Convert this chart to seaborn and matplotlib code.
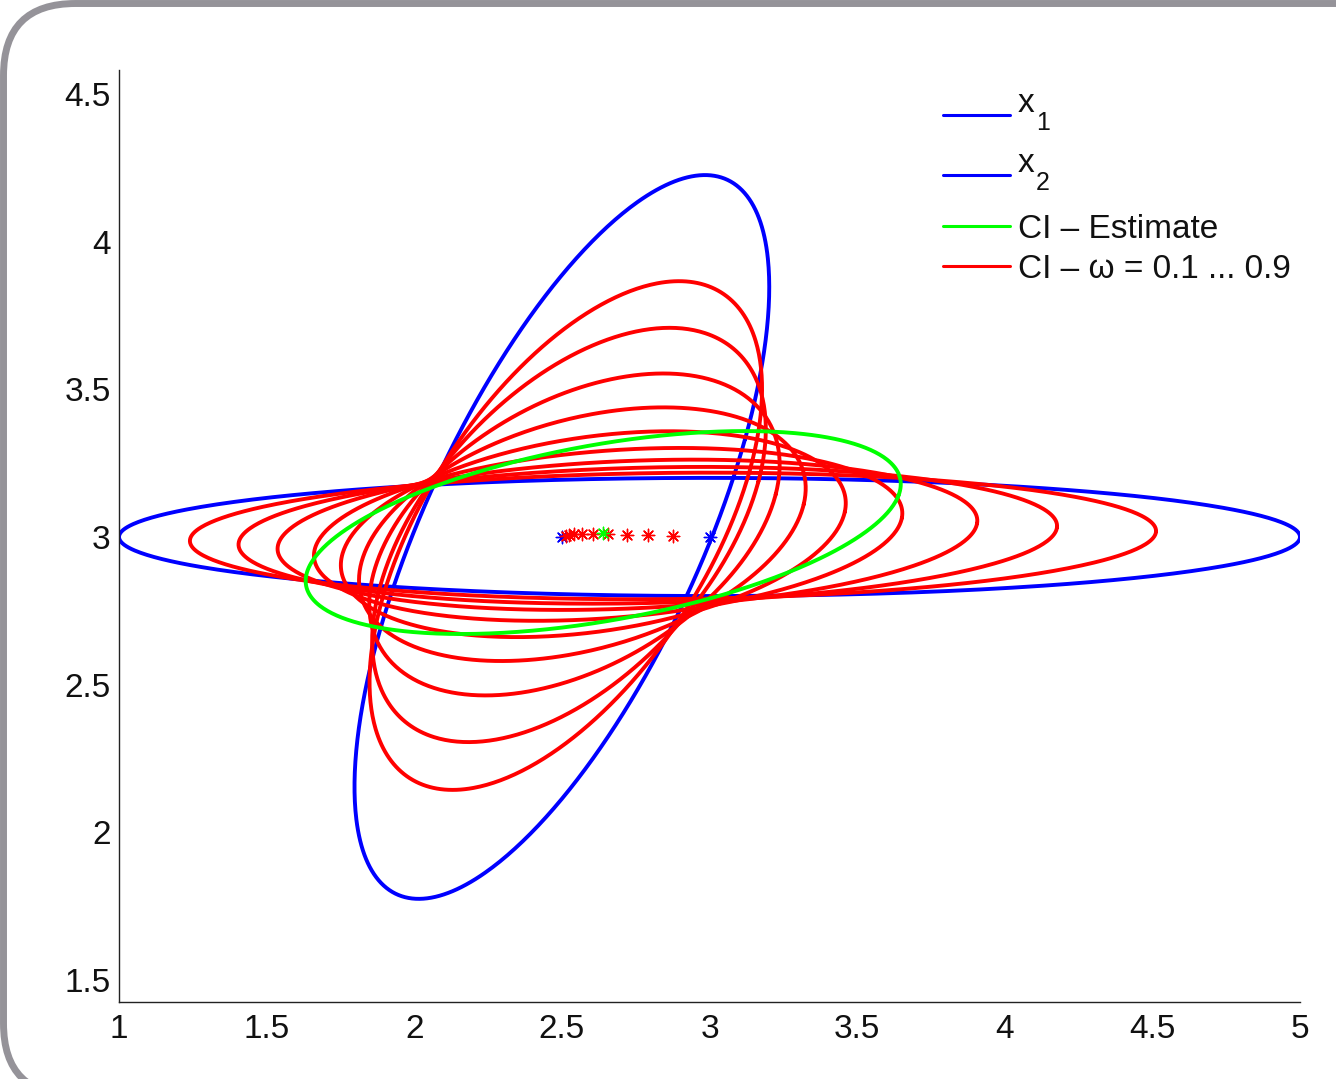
import numpy as np
import pandas as pd
import matplotlib
matplotlib.use('Agg')
import matplotlib.pyplot as plt
import seaborn as sns
from matplotlib.patches import FancyBboxPatch

# two estimates (mean + covariance, drawn as P * unit circle)
mean_x1 = [3.0, 3.0]
cov_x1 = [[2.0, 0.0], [0.0, 0.2]]
mean_x2 = [2.5, 3.0]
cov_x2 = [[0.62, 0.33], [0.33, 1.18]]

# covariance intersection weights (legend says 0.1 ... 0.9, these are the
# effective values read off the drawn ellipses)
omegas = [0.085, 0.15, 0.25, 0.37, 0.50, 0.63, 0.75, 0.84, 0.92]

# CI estimate (green)
est_mean = [2.64, 3.015]
est_cov = [[1.0, 0.125], [0.125, 0.32]]

legend_colors = ['#0000ff', '#0000ff', '#00ff00', '#ff0000']
legend_rows_px = [115, 175, 226, 266]

sns.set_style('white')
plt.rcParams['font.family'] = ['Liberation Sans', 'DejaVu Sans']


def ellipse(m, P, n=500):
    t = np.linspace(0, 2 * np.pi, n)
    pts = np.asarray(m)[:, None] + np.asarray(P) @ np.vstack([np.cos(t), np.sin(t)])
    return pd.DataFrame({'x': pts[0], 'y': pts[1]})


def ci(w):
    i1 = np.linalg.inv(cov_x1)
    i2 = np.linalg.inv(cov_x2)
    P = np.linalg.inv(w * i1 + (1 - w) * i2)
    m = P @ (w * i1 @ np.asarray(mean_x1) + (1 - w) * i2 @ np.asarray(mean_x2))
    return m, P


W, H = 1336, 1079
fig = plt.figure(figsize=(W / 100, H / 100), dpi=100)

# slide frame + manual legend live on a pixel-coordinate overlay
bg = fig.add_axes([0, 0, 1, 1])
bg.set_xlim(0, W)
bg.set_ylim(0, H)
bg.axis('off')
bg.add_patch(FancyBboxPatch((3.5, H - 3.5 - 1092), 1500, 1092,
                            boxstyle='round,pad=0,rounding_size=72',
                            fc='none', ec='#959399', lw=5))

ax = fig.add_axes([119 / W, 77 / H, 1181 / W, 932 / H])
ax.patch.set_alpha(0)

lw = 2.8
for m, P in [(mean_x1, cov_x1), (mean_x2, cov_x2)]:
    sns.lineplot(data=ellipse(m, P), x='x', y='y', sort=False, estimator=None,
                 color='#0000ff', lw=lw, ax=ax)

centers = []
for w in omegas:
    m, P = ci(w)
    centers.append(m)
    sns.lineplot(data=ellipse(m, P), x='x', y='y', sort=False, estimator=None,
                 color='#ff0000', lw=lw, ax=ax)

sns.lineplot(data=ellipse(est_mean, est_cov), x='x', y='y', sort=False,
             estimator=None, color='#00ff00', lw=lw, ax=ax)

star = (8, 2, 0)
sns.scatterplot(x=[mean_x1[0], mean_x2[0]], y=[mean_x1[1], mean_x2[1]],
                marker=star, color='#0000ff', s=80, linewidth=1, ax=ax)
centers = np.array(centers)
sns.scatterplot(x=centers[:, 0], y=centers[:, 1], marker=star, color='#ff0000',
                s=80, linewidth=1, ax=ax)
sns.scatterplot(x=[est_mean[0]], y=[est_mean[1]], marker=star, color='#00ff00',
                s=80, linewidth=1, ax=ax)

ax.set_xlim(1, 5)
ax.set_ylim(1.4255, 4.581)
ax.set_xticks([1, 1.5, 2, 2.5, 3, 3.5, 4, 4.5, 5])
ax.set_xticklabels(['1', '1.5', '2', '2.5', '3', '3.5', '4', '4.5', '5'])
ax.set_yticks([1.5, 2, 2.5, 3, 3.5, 4, 4.5])
ax.set_yticklabels(['1.5', '2', '2.5', '3', '3.5', '4', '4.5'])
ax.set_xlabel('')
ax.set_ylabel('')
for s in ['top', 'right']:
    ax.spines[s].set_visible(False)
for s in ['left', 'bottom']:
    ax.spines[s].set_color('#222222')
    ax.spines[s].set_linewidth(1.0)
ax.tick_params(direction='in', length=8.5, width=0.9, color='#555555',
               labelsize=24, labelcolor='#111111')
ax.tick_params(axis='x', pad=9)
ax.tick_params(axis='y', pad=6)

# legend, MATLAB style (subscripts sit well below the line)
for yrow, c in zip(legend_rows_px, legend_colors):
    bg.plot([943, 1010], [H - yrow, H - yrow], color=c, lw=2.2)
fs = 24
for yrow, sub in zip(legend_rows_px[:2], ['1', '2']):
    bg.text(1018, H - yrow + 3, 'x', fontsize=fs, va='baseline', color='#111111')
    bg.text(1036, H - yrow - 15, sub, fontsize=18, va='baseline', color='#111111')
bg.text(1018, H - legend_rows_px[2] - 12, 'CI – Estimate', fontsize=fs,
        va='baseline', color='#111111')
bg.text(1018, H - legend_rows_px[3] - 12, 'CI – ω = 0.1 ... 0.9', fontsize=fs,
        va='baseline', color='#111111')

fig.savefig('out.png', dpi=100)
